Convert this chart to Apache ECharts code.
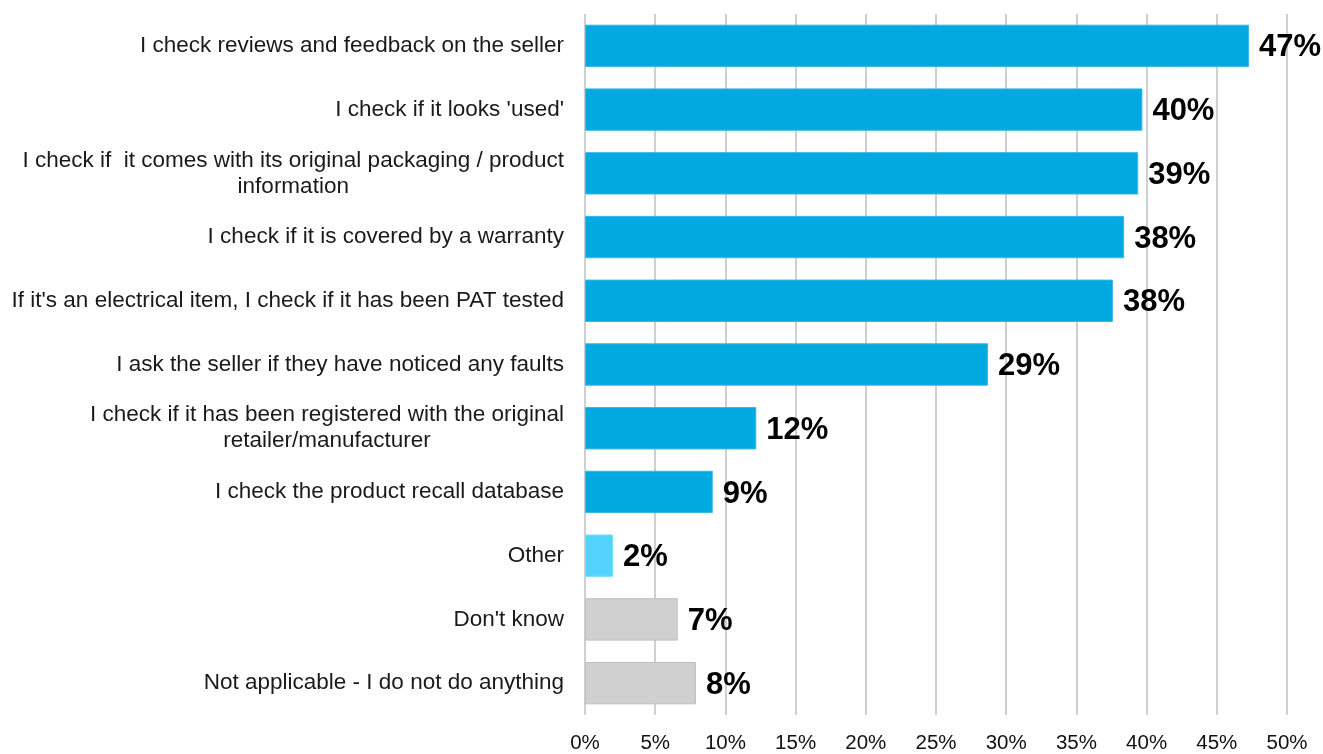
<!DOCTYPE html>
<html>
<head>
<meta charset="utf-8">
<script src="https://cdn.jsdelivr.net/npm/echarts@6/dist/echarts.min.js"></script>
<style>
  html, body { margin: 0; padding: 0; background: #fff; overflow: hidden; }
  #chart { width: 1323px; height: 754px; }
</style>
</head>
<body>
<div id="chart"></div>
<script>
// Survey answers, listed top to bottom as they appear on the chart
const categories = [
  "I check reviews and feedback on the seller",
  "I check if it looks 'used'",
  "I check if  it comes with its original packaging / product\ninformation",
  "I check if it is covered by a warranty",
  "If it's an electrical item, I check if it has been PAT tested",
  "I ask the seller if they have noticed any faults",
  "I check if it has been registered with the original\nretailer/manufacturer",
  "I check the product recall database",
  "Other",
  "Don't know",
  "Not applicable - I do not do anything"
];

// Share of respondents (%)
const values = [47.3, 39.7, 39.4, 38.4, 37.6, 28.7, 12.2, 9.1, 2.0, 6.6, 7.9];

// Bar colour group per answer: main actions, other, non-answers
const groups = ["main", "main", "main", "main", "main", "main", "main", "main", "other", "none", "none"];

const groupColors = {
  main:  { fill: "#00A9DF", border: "#3DB6E2" },
  other: { fill: "#55D3FF", border: "#7ADCFF" },
  none:  { fill: "#D0D0D0", border: "#BDBDBD" }
};

const xTicks = [0, 5, 10, 15, 20, 25, 30, 35, 40, 45, 50];

const chart = echarts.init(document.getElementById("chart"), null, { renderer: "canvas" });

const fontFamily = "'Liberation Sans', Arial, sans-serif";

chart.setOption({
  animation: false,
  backgroundColor: "#ffffff",
  grid: { left: 585, width: 702, top: 14, height: 709, containLabel: false },
  xAxis: {
    type: "value",
    min: xTicks[0],
    max: xTicks[xTicks.length - 1],
    interval: 5,
    axisLine: { show: false },
    axisTick: { show: false },
    splitLine: { show: true, lineStyle: { color: "#C4C4C4", width: 1.6 } },
    axisLabel: {
      margin: 18,
      fontFamily: fontFamily,
      fontSize: 20.5,
      color: "#111",
      formatter: v => v + "%"
    }
  },
  yAxis: {
    type: "category",
    inverse: true,
    data: categories,
    axisLine: { show: false },
    axisTick: { show: false },
    splitLine: { show: false },
    axisLabel: {
      margin: 21,
      fontFamily: fontFamily,
      fontSize: 22.5,
      color: "#1a1a1a",
      lineHeight: 26,
      formatter: v => v.split("\n").map(line => "{c|" + line + "}").join("\n"),
      rich: {
        c: { align: "center", fontFamily: fontFamily, fontSize: 22.5, color: "#1a1a1a", lineHeight: 26 }
      }
    }
  },
  series: [{
    type: "bar",
    barWidth: "66.5%",
    data: values.map((v, i) => ({
      value: v,
      itemStyle: {
        color: groupColors[groups[i]].fill,
        borderColor: groupColors[groups[i]].border,
        borderWidth: 1
      }
    })),
    label: {
      show: true,
      position: "right",
      distance: 10,
      fontFamily: fontFamily,
      fontSize: 31,
      fontWeight: "bold",
      color: "#000",
      offset: [0, 2],
      formatter: p => Math.round(p.value) + "%"
    }
  }]
});
</script>
</body>
</html>
